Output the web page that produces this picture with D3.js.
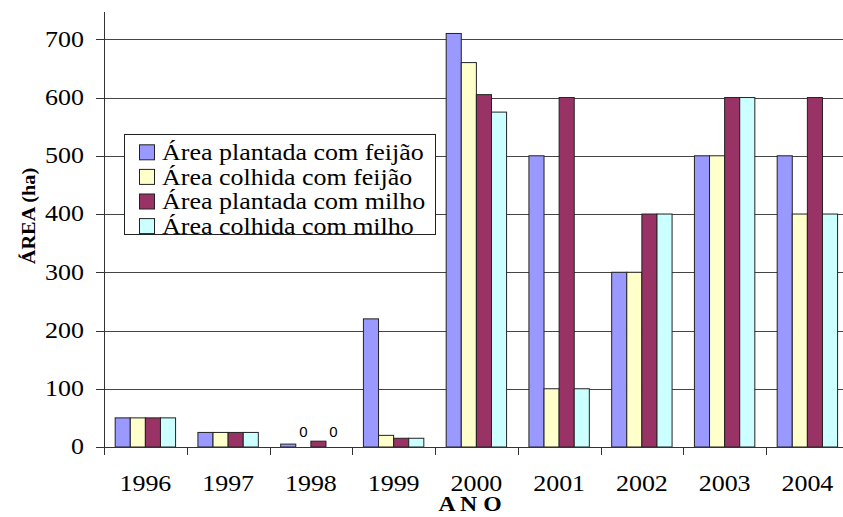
<!DOCTYPE html>
<html>
<head>
<meta charset="utf-8">
<script src="https://cdn.jsdelivr.net/npm/d3@7"></script>
<style>
  html, body { margin: 0; padding: 0; background: #fff; }
  svg { display: block; }
</style>
</head>
<body>
<div id="chart"></div>
<script>
// Anos e séries (hectares)
const anos = ["1996", "1997", "1998", "1999", "2000", "2001", "2002", "2003", "2004"];
const series = ["Área plantada com feijão", "Área colhida com feijão", "Área plantada com milho", "Área colhida com milho"];
const plantadaFeijao = [50, 25, 5, 220, 710, 500, 300, 500, 500];
const colhidaFeijao  = [50, 25, 0, 20, 660, 100, 300, 500, 400];
const plantadaMilho  = [50, 25, 10, 15, 605, 600, 400, 600, 600];
const colhidaMilho   = [50, 25, 0, 15, 575, 100, 400, 600, 400];
const yTicks = [0, 100, 200, 300, 400, 500, 600, 700];
const cores = ["#9999FF", "#FFFFCC", "#993366", "#CCFFFF"];

const valores = [plantadaFeijao, colhidaFeijao, plantadaMilho, colhidaMilho];

const W = 843, H = 517;
const plotLeft = 104, plotTop = 12, plotBottom = 447;
const band = 82.75;
const SX = 1.13; // largura das letras

const svg = d3.select("#chart").append("svg")
  .attr("width", W).attr("height", H);

const x0 = d3.scaleBand().domain(anos).range([plotLeft, plotLeft + band * anos.length]).padding(0);
const x1 = d3.scaleBand().domain(series).range([0, x0.bandwidth()]).paddingInner(0).paddingOuter(0.74);
const y = d3.scaleLinear().domain([0, 700]).range([plotBottom, 39.3]);

const serif = "'Liberation Serif', 'Times New Roman', serif";

// posiciona um texto com as letras levemente alargadas
function place(sel, fx, fy, rot) {
  sel.attr("transform", (d, i) => {
    const r = rot ? ` rotate(${rot})` : "";
    return `translate(${fx(d, i)},${fy(d, i)})${r} scale(${SX},1)`;
  });
}

// linhas de grade
svg.append("g")
  .selectAll("line")
  .data(yTicks.filter(d => d > 0))
  .join("line")
  .attr("x1", plotLeft).attr("x2", W)
  .attr("y1", d => Math.round(y(d)) + 0.5).attr("y2", d => Math.round(y(d)) + 0.5)
  .attr("stroke", "#444").attr("stroke-width", 1);

// barras
const grupos = svg.append("g")
  .selectAll("g")
  .data(anos)
  .join("g")
  .attr("transform", d => `translate(${x0(d)},0)`);

grupos.selectAll("rect")
  .data((d, i) => series.map((s, j) => ({ s, v: valores[j][i], c: cores[j] })).filter(d => d.v > 0))
  .join("rect")
  .attr("x", d => x1(d.s))
  .attr("width", x1.bandwidth())
  .attr("y", d => y(d.v))
  .attr("height", d => y(0) - y(d.v))
  .attr("fill", d => d.c)
  .attr("stroke", "#222")
  .attr("stroke-width", 1);

// rótulos de valor zero
grupos.selectAll("text.zero")
  .data((d, i) => series.map((s, j) => ({ s, v: valores[j][i] })).filter(d => d.v === 0))
  .join("text")
  .attr("class", "zero")
  .attr("x", d => x1(d.s) + x1.bandwidth() / 2)
  .attr("y", 437)
  .attr("text-anchor", "middle")
  .attr("font-family", "'Liberation Sans', Arial, sans-serif")
  .attr("font-size", 15)
  .attr("fill", "#000")
  .text(d => d.v);

// eixo Y
const yAxis = svg.append("g");
yAxis.append("line")
  .attr("x1", plotLeft + 0.5).attr("x2", plotLeft + 0.5)
  .attr("y1", plotTop).attr("y2", plotBottom + 8)
  .attr("stroke", "#333");
yAxis.selectAll("line.tick")
  .data(yTicks)
  .join("line")
  .attr("class", "tick")
  .attr("x1", plotLeft - 8).attr("x2", plotLeft)
  .attr("y1", d => Math.round(y(d)) + 0.5).attr("y2", d => Math.round(y(d)) + 0.5)
  .attr("stroke", "#333");
yAxis.selectAll("text")
  .data(yTicks)
  .join("text")
  .attr("dy", "0.32em")
  .attr("text-anchor", "end")
  .attr("font-family", serif)
  .attr("font-size", 23)
  .text(d => d)
  .call(place, () => 84, d => y(d));

// eixo X
const xAxis = svg.append("g");
xAxis.append("line")
  .attr("x1", plotLeft - 8).attr("x2", W)
  .attr("y1", plotBottom + 0.5).attr("y2", plotBottom + 0.5)
  .attr("stroke", "#333");
xAxis.selectAll("line.tick")
  .data(anos.slice(1))
  .join("line")
  .attr("class", "tick")
  .attr("x1", d => Math.round(x0(d)) + 0.5).attr("x2", d => Math.round(x0(d)) + 0.5)
  .attr("y1", plotBottom).attr("y2", plotBottom + 8)
  .attr("stroke", "#333");
xAxis.selectAll("text")
  .data(anos)
  .join("text")
  .attr("text-anchor", "middle")
  .attr("font-family", serif)
  .attr("font-size", 23)
  .text(d => d)
  .call(place, d => x0(d) + x0.bandwidth() / 2, () => 491);

// títulos dos eixos
svg.append("text")
  .attr("text-anchor", "middle")
  .attr("font-family", serif)
  .attr("font-weight", "bold")
  .attr("font-size", 21)
  .text("A N O")
  .call(place, () => 470, () => 511);

svg.append("text")
  .attr("text-anchor", "middle")
  .attr("font-family", serif)
  .attr("font-weight", "bold")
  .attr("font-size", 18)
  .text("ÁREA (ha)")
  .call(place, () => 35, () => 216, -90);

// legenda
const leg = svg.append("g");
leg.append("rect")
  .attr("x", 124.5).attr("y", 134.5)
  .attr("width", 311).attr("height", 100)
  .attr("fill", "#fff").attr("stroke", "#222");
const itens = leg.selectAll("g")
  .data(series)
  .join("g")
  .attr("transform", (d, i) => `translate(0,${152.3 + i * 24.6})`);
itens.append("rect")
  .attr("x", 139.5).attr("y", -7.5)
  .attr("width", 15).attr("height", 15)
  .attr("fill", (d, i) => cores[i])
  .attr("stroke", "#222");
itens.append("text")
  .attr("dy", "0.33em")
  .attr("font-family", serif)
  .attr("font-size", 23)
  .text(d => d)
  .call(place, () => 162, () => 0);
</script>
</body>
</html>
